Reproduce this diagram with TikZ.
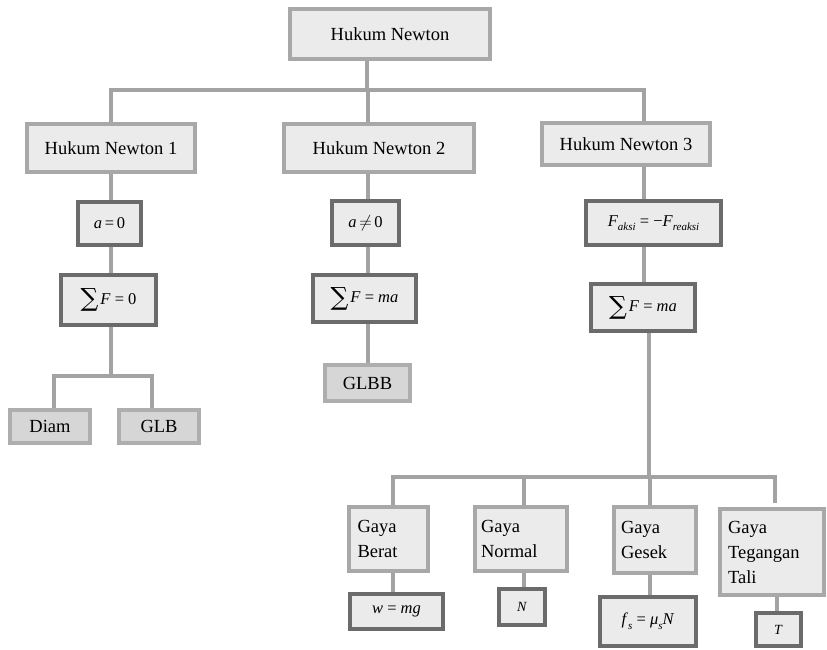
\documentclass[tikz,border=0pt]{standalone}
\usepackage{fontspec}
\setmainfont{Liberation Serif}
\newfontfamily\opfont{DejaVu Serif}
\usetikzlibrary{backgrounds}
\definecolor{lineg}{HTML}{A3A3A3}
\definecolor{lightedge}{HTML}{A8A8A8}
\definecolor{lightfill}{HTML}{EBEBEB}
\definecolor{darkedge}{HTML}{6B6B6B}
\definecolor{leaffill}{HTML}{D6D6D6}
\definecolor{leafedge}{HTML}{AEAEAE}
\tikzset{
  lbox/.style={draw=lightedge, fill=lightfill, line width=3.5pt, inner sep=0pt,
    font=\fontsize{18.5}{21}\selectfont},
  dbox/.style={draw=darkedge, fill=lightfill, line width=4pt, inner sep=0pt,
    font=\fontsize{16.5}{19}\selectfont},
  leaf/.style={draw=leafedge, fill=leaffill, line width=3.5pt, inner sep=0pt,
    font=\fontsize{18.5}{21}\selectfont},
  gbox/.style={lbox, align=left, font=\fontsize{18.5}{25}\selectfont},
  conn/.style={draw=lineg, line width=3.5pt, line cap=rect},
}
\newcommand{\vi}[1]{\textit{#1}}
\newcommand{\bigsum}{\raisebox{-0.3ex}{\opfont\fontsize{25}{25}\selectfont ∑}\kern2pt}
\newcommand{\subi}[1]{\raisebox{-0.6ex}{\fontsize{11}{11}\selectfont\textit{#1}}}
\begin{document}
\begin{tikzpicture}[x=1pt, y=-1pt]
\useasboundingbox (0,0) rectangle (827,649);

% root
\node[lbox, minimum width=200pt, minimum height=50pt] (top) at (390,34) {Hukum Newton};

% three laws
\node[lbox, minimum width=168pt, minimum height=48pt] (n1) at (111,148) {Hukum Newton 1};
\node[lbox, minimum width=190pt, minimum height=48pt] (n2) at (379,148) {Hukum Newton 2};
\node[lbox, minimum width=168pt, minimum height=42pt] (n3) at (626,144) {Hukum Newton 3};

% first law
\node[dbox, minimum width=63pt, minimum height=43pt] (a0) at (109.5,223.5) {\vi{a}\,=\,0};
\node[dbox, minimum width=95pt, minimum height=50pt] (s0) at (108.5,300) {\bigsum\vi{F} = 0};
\node[leaf, minimum width=80pt, minimum height=33pt] (diam) at (50,426.5) {Diam};
\node[leaf, minimum width=80pt, minimum height=33pt] (glb) at (159,426.5) {GLB};

% second law
\node[dbox, minimum width=67pt, minimum height=44pt] (an) at (365.5,223) {\vi{a}\,$\neq$\,0};
\node[dbox, minimum width=103pt, minimum height=47pt] (s2) at (364.5,298.5) {\bigsum\vi{F} = \vi{ma}};
\node[leaf, minimum width=85pt, minimum height=36pt] (glbb) at (367.5,383) {GLBB};

% third law
\node[dbox, minimum width=135pt, minimum height=44pt] (fa) at (653.5,223)
  {\vi{F}\subi{aksi} = −\vi{F}\subi{reaksi}};
\node[dbox, minimum width=104pt, minimum height=47pt] (s3) at (643,307.5) {\bigsum\vi{F} = \vi{ma}};

% forces
\node[gbox, minimum width=79pt, minimum height=64pt, text width=62pt] (gb) at (388.5,539) {Gaya\\Berat};
\node[gbox, minimum width=92pt, minimum height=64pt, text width=80pt] (gn) at (521,539) {Gaya\\Normal};
\node[gbox, minimum width=82pt, minimum height=66pt, text width=68pt] (gg) at (655,540) {Gaya\\Gesek};
\node[gbox, minimum width=104pt, minimum height=86pt, text width=88pt] (gt) at (772,552) {Gaya\\Tegangan\\Tali};

\node[dbox, minimum width=93pt, minimum height=35pt] (w) at (396.5,611.5) {\vi{w} = \vi{mg}};
\node[dbox, minimum width=46pt, minimum height=36pt, font=\fontsize{14}{16}\selectfont] (nn) at (522,607) {\vi{N}};
\node[dbox, minimum width=96pt, minimum height=49pt] (fs) at (648,621.5)
  {\vi{f}\subi{s} = \vi{μ}\subi{s}\vi{N}};
\node[dbox, minimum width=45pt, minimum height=33pt, font=\fontsize{14}{16}\selectfont] (tt) at (778.5,629.5) {\vi{T}};

% connectors
\begin{scope}[on background layer]
  \coordinate (j0) at (367,90);
  \coordinate (h1) at (111,90);
  \coordinate (h2) at (368,90);
  \coordinate (h3) at (644,90);
  \draw[conn] (top.south -| j0) -- (j0);
  \draw[conn] (h1) -- (h3);
  \draw[conn] (h1) -- (n1.north -| h1);
  \draw[conn] (h2) -- (n2.north -| h2);
  \draw[conn] (h3) -- (n3.north -| h3);

  % first law branch
  \coordinate (d0) at (111,376);
  \coordinate (d1) at (54,376);
  \coordinate (d2) at (152,376);
  \draw[conn] (n1.south -| h1) -- (a0.north -| h1);
  \draw[conn] (a0.south -| h1) -- (s0.north -| h1);
  \draw[conn] (s0.south -| d0) -- (d0);
  \draw[conn] (d1) -- (d2);
  \draw[conn] (d1) -- (diam.north -| d1);
  \draw[conn] (d2) -- (glb.north -| d2);

  % second law branch
  \draw[conn] (n2.south -| h2) -- (an.north -| h2);
  \draw[conn] (an.south -| h2) -- (s2.north -| h2);
  \draw[conn] (s2.south -| h2) -- (glbb.north -| h2);

  % third law branch
  \coordinate (b0) at (649,477);
  \coordinate (b1) at (393,477);
  \coordinate (b2) at (524,477);
  \coordinate (b3) at (650,477);
  \coordinate (b4) at (775,477);
  \coordinate (b4e) at (775,501);
  \draw[conn] (n3.south -| h3) -- (fa.north -| h3);
  \draw[conn] (fa.south -| h3) -- (s3.north -| h3);
  \draw[conn] (s3.south -| b0) -- (b0);
  \draw[conn] (b1) -- (b4);
  \draw[conn] (b1) -- (gb.north -| b1);
  \draw[conn] (b2) -- (gn.north -| b2);
  \draw[conn] (b3) -- (gg.north -| b3);
  \draw[conn] (b4) -- (b4e);

  % force formulas
  \draw[conn] (gb.south -| b1) -- (w.north -| b1);
  \draw[conn] (gn.south -| b2) -- (nn.north -| b2);
  \draw[conn] (gg.south -| b3) -- (fs.north -| b3);
  \coordinate (t0) at (777,0);
  \draw[conn] (gt.south -| t0) -- (tt.north -| t0);
\end{scope}
\end{tikzpicture}
\end{document}
